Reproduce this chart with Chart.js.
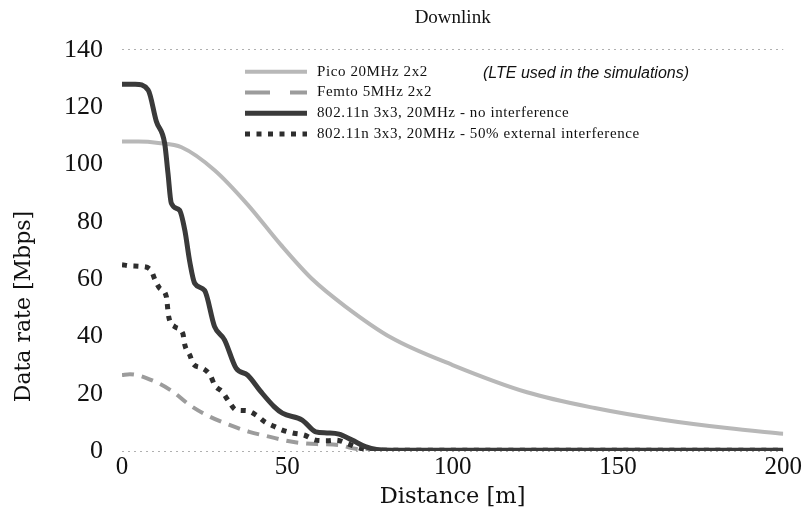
<!DOCTYPE html>
<html>
<head>
<meta charset="utf-8">
<script src="https://cdn.jsdelivr.net/npm/chart.js@4/dist/chart.umd.min.js"></script>
<style>
  html, body { margin: 0; padding: 0; background: #fff; }
  #wrap { width: 803px; height: 511px; }
</style>
</head>
<body>
<div id="wrap"><canvas id="c" width="803" height="511"></canvas></div>
<script>
// ---- data ----
const titleText = "Downlink";
const xTitle = "Distance [m]";
const yTitle = "Data rate [Mbps]";
const noteText = "(LTE used in the simulations)";
const seriesNames = [
  "Pico 20MHz 2x2",
  "Femto 5MHz 2x2",
  "802.11n 3x3, 20MHz - no interference",
  "802.11n 3x3, 20MHz - 50% external interference"
];

const picoDist  = [0, 5, 11, 18, 28, 38, 48, 57.5, 67.5, 81.5, 100, 122.5, 143, 163, 183, 200];
const picoRate  = [108, 108, 107.5, 106, 98, 86, 72, 60, 50.5, 39.5, 30, 20.5, 15, 11, 8, 6];

const femtoDist = [0, 2.4, 10, 15.4, 20.5, 26.5, 32.5, 38.5, 44.5, 51.5, 59, 65.6, 69.5, 74, 80, 100, 150, 200];
const femtoRate = [26.5, 26.8, 24.2, 20.7, 16, 12, 9.1, 6.7, 5, 3.2, 2.4, 2.1, 1, 0.3, 0.2, 0.2, 0.2, 0.2];

const wifiDist  = [0, 4, 7.9, 10.4, 12.9, 13.9, 14.9, 17.4, 19, 20.5, 22, 25, 28, 31, 34.5, 38, 42, 46, 48.5, 54.5, 58.6, 62, 65.6, 69.6, 73.6, 77, 81.6, 100, 150, 200];
const wifiRate  = [128, 128, 126, 115, 107.4, 97, 86.5, 84, 77, 66, 58.5, 56, 43.4, 38.8, 28.9, 26.5, 20.7, 15.5, 13.2, 10.8, 6.7, 6.3, 5.9, 3.8, 1.5, 0.5, 0.3, 0.3, 0.3, 0.3];

const wifiIntDist = [0, 2.4, 5.7, 8.7, 10, 11.4, 13.4, 14.1, 15.9, 18.4, 19, 20.5, 21.6, 24.3, 26.8, 28, 30.3, 32.2, 34.5, 37.5, 40.5, 43.2, 46, 48.5, 52, 55, 58.6, 62, 64.7, 68, 70.6, 74, 80, 100, 150, 200];
const wifiIntRate = [65, 64.6, 64.4, 63.2, 59.7, 56.8, 53.9, 47, 43.4, 41, 37, 33.5, 30.3, 28.9, 26.2, 23, 20.7, 17.5, 14.3, 14.1, 12.6, 10.2, 8.6, 7.3, 6.2, 5.6, 3.8, 3.6, 3.8, 2.7, 1.5, 0.5, 0.3, 0.3, 0.3, 0.3];

const xTicks = [0, 50, 100, 150, 200];
const yTicks = [0, 20, 40, 60, 80, 100, 120, 140];

function pts(xs, ys) { return xs.map((x, i) => ({ x: x, y: ys[i] })); }

const serif = "'Liberation Serif', 'DejaVu Serif', serif";
const wideSerif = "'DejaVu Serif', 'Liberation Serif', serif";

// styles for series (also reused by the custom legend)
const styles = [
  { color: '#b8b8b8', width: 4, dash: [], legendDash: [] },
  { color: '#9c9c9c', width: 4, dash: [12, 8], legendDash: [25, 20] },
  { color: '#3a3a3a', width: 5, dash: [], legendDash: [] },
  { color: '#2e2e2e', width: 5, dash: [5, 6.5], legendDash: [5, 6.5] }
];

const legendPlugin = {
  id: 'innerLegend',
  afterDraw(chart) {
    const ctx = chart.ctx;
    const a = chart.chartArea;
    const x0 = a.left + 123, x1 = a.left + 185, tx = a.left + 195;
    const y0 = a.top + 22, dy = 20.7;
    ctx.save();
    seriesNames.forEach((name, i) => {
      const s = styles[i];
      const y = y0 + i * dy;
      ctx.beginPath();
      ctx.lineWidth = s.width;
      ctx.strokeStyle = s.color;
      ctx.setLineDash(s.legendDash);
      ctx.moveTo(x0, y);
      ctx.lineTo(x1, y);
      ctx.stroke();
      ctx.setLineDash([]);
      ctx.fillStyle = '#111';
      ctx.font = "15px " + serif;
      ctx.letterSpacing = '0.6px';
      ctx.textBaseline = 'middle';
      ctx.textAlign = 'left';
      ctx.fillText(name, tx, y);
    });
    ctx.letterSpacing = '0px';
    ctx.font = "italic 16px 'Liberation Sans', Arial, sans-serif";
    ctx.fillStyle = '#111';
    ctx.textBaseline = 'middle';
    ctx.fillText(noteText, a.left + 361, a.top + 24);

    // y axis title (placed lower than centre, as in the reference)
    ctx.save();
    ctx.translate(24, a.top + (a.bottom - a.top) * 0.64);
    ctx.rotate(-Math.PI / 2);
    ctx.font = "22px " + wideSerif;
    ctx.textAlign = 'center';
    ctx.textBaseline = 'middle';
    ctx.fillText(yTitle, 0, 0);
    ctx.restore();
    ctx.restore();
  }
};

const mk = (label, data, s) => ({
  label: label,
  data: data,
  borderColor: s.color,
  backgroundColor: s.color,
  borderWidth: s.width,
  borderDash: s.dash,
  borderCapStyle: 'butt',
  pointRadius: 0,
  fill: false,
  cubicInterpolationMode: 'monotone'
});

new Chart(document.getElementById('c'), {
  type: 'line',
  data: {
    datasets: [
      mk(seriesNames[2], pts(wifiDist, wifiRate), styles[2]),
      mk(seriesNames[3], pts(wifiIntDist, wifiIntRate), styles[3]),
      mk(seriesNames[1], pts(femtoDist, femtoRate), styles[1]),
      mk(seriesNames[0], pts(picoDist, picoRate), styles[0])
    ]
  },
  options: {
    responsive: false,
    animation: false,
    layout: { padding: { left: 0, right: 17, top: 0, bottom: 0 } },
    plugins: {
      legend: { display: false },
      tooltip: { enabled: false },
      title: {
        display: true,
        text: titleText,
        fullSize: false,
        color: '#111',
        font: { family: serif, size: 19, weight: 'normal' },
        padding: { top: 7, bottom: 20 }
      }
    },
    scales: {
      x: {
        type: 'linear',
        min: 0, max: 200,
        afterBuildTicks: (sc) => { sc.ticks = xTicks.map(v => ({ value: v })); },
        afterFit: (sc) => { sc.height = 60; },
        grid: { display: false, drawTicks: false },
        border: { display: false },
        ticks: {
          color: '#111',
          padding: 1,
          maxRotation: 0,
          font: { family: serif, size: 25 }
        },
        title: {
          display: true,
          text: xTitle,
          color: '#111',
          font: { family: wideSerif, size: 22.5 },
          padding: { top: 0, bottom: 0 }
        }
      },
      y: {
        type: 'linear',
        min: 0, max: 140,
        afterBuildTicks: (sc) => { sc.ticks = yTicks.map(v => ({ value: v })); },
        afterFit: (sc) => { sc.width = 122; },
        grid: {
          drawTicks: false,
          lineWidth: 1,
          color: (c) => (c.tick && (c.tick.value === 0 || c.tick.value === 140)) ? '#b0b0b0' : 'rgba(0,0,0,0)'
        },
        border: { display: false, dash: [2, 4] },
        ticks: {
          color: '#111',
          padding: 19,
          font: { family: serif, size: 26 }
        },
        title: { display: false }
      }
    }
  },
  plugins: [legendPlugin]
});
</script>
</body>
</html>
